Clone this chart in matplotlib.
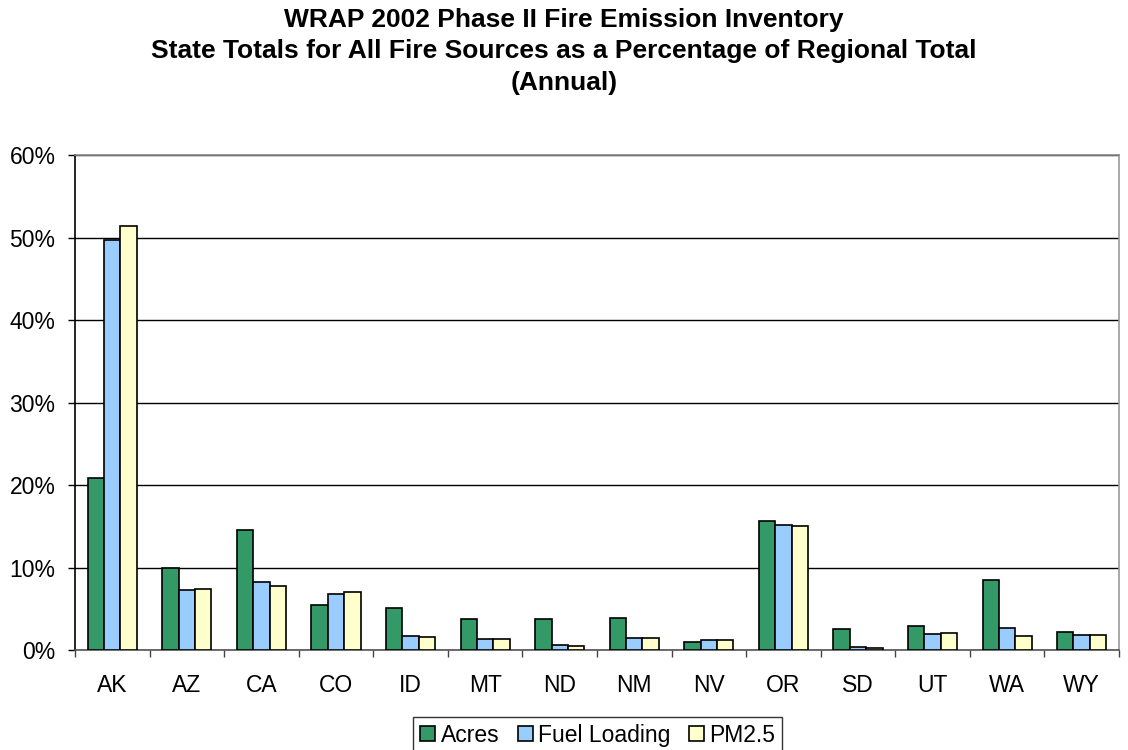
import matplotlib
matplotlib.use("Agg")
import matplotlib.pyplot as plt
import numpy as np
from matplotlib.ticker import FuncFormatter

states = ["AK", "AZ", "CA", "CO", "ID", "MT", "ND", "NM", "NV", "OR", "SD", "UT", "WA", "WY"]
acres = [20.9, 9.9, 14.6, 5.4, 5.05, 3.76, 3.8, 3.88, 0.97, 15.6, 2.6, 2.87, 8.48, 2.22]
fuel_loading = [49.7, 7.27, 8.3, 6.8, 1.66, 1.29, 0.6, 1.41, 1.17, 15.15, 0.4, 1.94, 2.7, 1.78]
pm25 = [51.4, 7.35, 7.8, 7.0, 1.54, 1.29, 0.44, 1.41, 1.17, 15.0, 0.28, 2.02, 1.66, 1.86]
series_names = ["Acres", "Fuel Loading", "PM2.5"]
colors = ["#339966", "#99CCFF", "#FFFFCC"]

plt.rcParams['font.family'] = ['Liberation Sans', 'DejaVu Sans']

fig = plt.figure(figsize=(11.28, 7.5), dpi=100)
ax = fig.add_axes([0.0665, 0.1333, 0.9255, 0.66])

x = np.arange(len(states))
w = 0.22
for i, (vals, name, c) in enumerate(zip([acres, fuel_loading, pm25], series_names, colors)):
    ax.bar(x + (i - 1) * w, vals, width=w, color=c, edgecolor="black", linewidth=1.2,
           label=name, zorder=3)

ax.set_xlim(-0.5, len(states) - 0.5)
ax.set_ylim(0, 60)
ax.set_yticks(np.arange(0, 61, 10))
ax.yaxis.set_major_formatter(FuncFormatter(lambda v, p: f"{int(v)}%"))
ax.yaxis.grid(True, color="black", linewidth=1, zorder=0)
ax.set_axisbelow(True)

ax.set_xticks(x)
ax.set_xticklabels(states)
ax.set_xticks(np.arange(-0.5, len(states), 1), minor=True)
ax.tick_params(axis="x", which="major", length=0, labelsize=16.5, pad=17.5)
ax.tick_params(axis="x", which="minor", length=5, width=1, direction="out", color="#444444")
ax.tick_params(axis="y", length=5, width=1, direction="out", labelsize=16.5, pad=9)

ax.spines["top"].set_color("#888888")
ax.spines["right"].set_color("#999999")
ax.spines["left"].set_color("black")
ax.spines["bottom"].set_color("#555555")
for s in ax.spines.values():
    s.set_linewidth(1.2)

fig.text(0.5, 0.99, "WRAP 2002 Phase II Fire Emission Inventory\nState Totals for All Fire Sources as a Percentage of Regional Total\n(Annual)",
         ha="center", va="top", fontsize=19, fontweight="bold", linespacing=1.42)

leg = fig.legend(loc="upper center", bbox_to_anchor=(0.53, 1 - 717 / 750), ncol=3, fontsize=16.5,
                 frameon=True, fancybox=False, edgecolor="black", handlelength=0.65,
                 handleheight=0.65, handletextpad=0.25, columnspacing=0.8, borderpad=0.3,
                 borderaxespad=0.0)
leg.get_frame().set_linewidth(1)

fig.savefig("out.png", dpi=100)
